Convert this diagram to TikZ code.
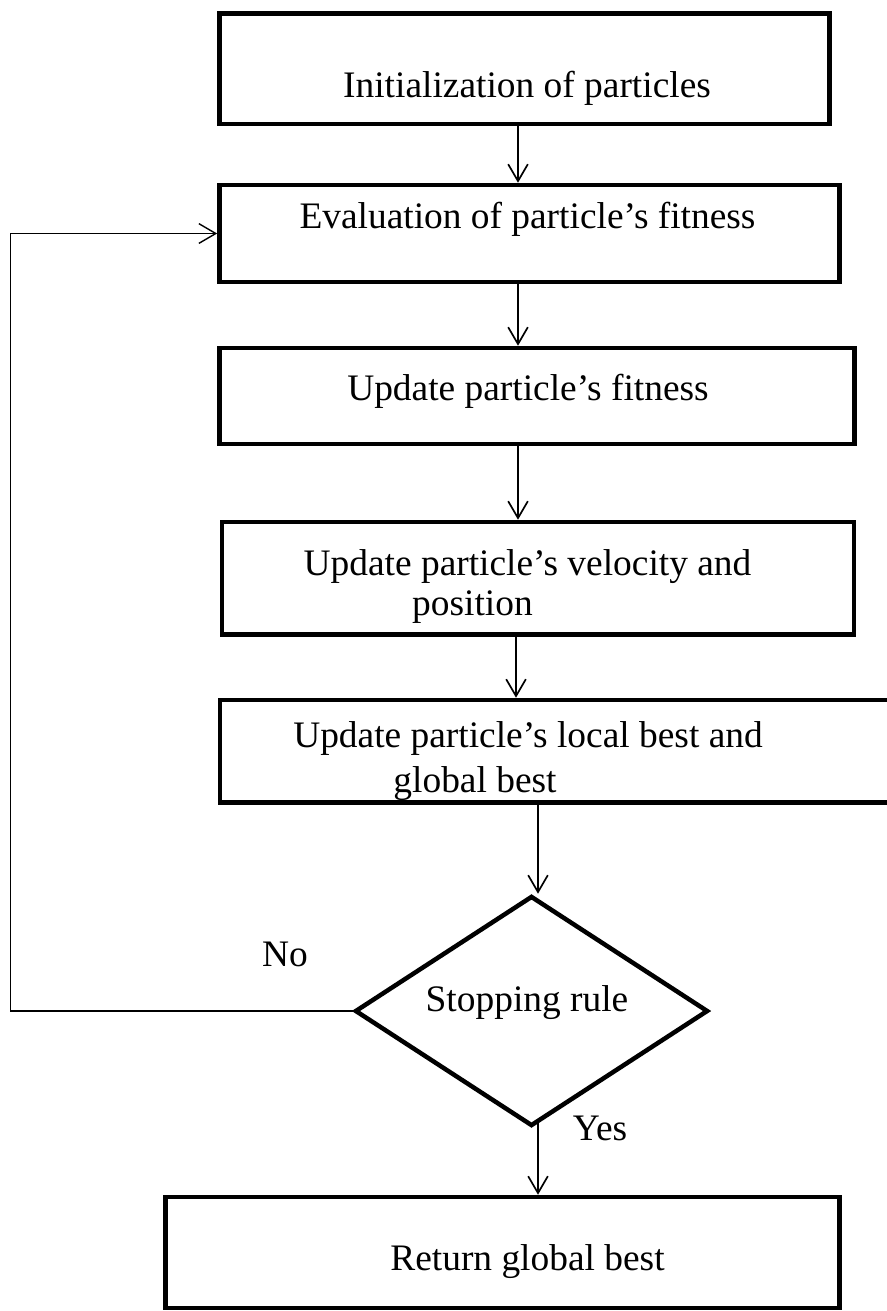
\documentclass[tikz,border=0pt]{standalone}
\usepackage{fontspec}
\setmainfont{Liberation Serif}
\usepackage{tikz}
\usetikzlibrary{calc,positioning,shapes.geometric,arrows.meta}
\tikzset{
  >={Straight Barb[length=12pt,width=14pt]},
  flow/.style={->,line width=1.2pt},
  backflow/.style={->,line width=1pt},
  txt/.style={inner sep=0pt,anchor=base,font=\fontsize{26.6}{30}\selectfont},
  procbox/.style args={#1,#2}{
  draw=black,
  line width=3.2pt,
  inner sep=0pt,
  minimum width=#1 cm,
  minimum height=#2 cm,
  },
  decision/.style args={#1,#2}{
  diamond,
  draw=black,
  line width=3.2pt,
  inner sep=0pt,
  minimum width=#1 cm,
  minimum height=#2 cm,
  }
}

\begin{document}
\begin{tikzpicture}[x=0.025cm,y=-0.025cm]
  \useasboundingbox (0,0) rectangle (887,1311);

  % boxes of the loop
  \node[procbox={15.25,2.7625}] (init) at (524.5,68.75) {};
  \node[procbox={15.5,2.425}] (eval) at (529.5,233.5) {};
  \node[procbox={15.8625,2.4}] (fit) at (537,396) {};
  \node[procbox={15.8,2.8125}] (vel) at (538,578.25) {};
  \node[procbox={17,2.5625}] (best) at (560,751.25) {};
  \node[decision={8.825,5.75}] (stop) at (531.5,1011) {};
  \node[procbox={16.85,2.775}] (ret) at (502.5,1252.5) {};

  % texts
  \node[txt] (tinit) at (527,97) {Initialization of particles};
  \node[txt] (teval) at (527.5,228) {Evaluation of particle's fitness};
  \node[txt] (tfit) at (528,400) {Update particle's fitness};
  \node[txt] (tvel1) at (527.5,575) {Update particle's velocity and};
  \node[txt] (tvel2) at (472.5,615) {position};
  \node[txt] (tbest1) at (528,747) {Update particle's local best and};
  \node[txt] (tbest2) at (475,792) {global best};
  \node[txt] (tstop) at (527,1011) {Stopping rule};
  \node[txt] (tret) at (527.5,1270) {Return global best};
  \node[txt] (no) at (285,966) {No};
  \node[txt] (yes) at (600,1140) {Yes};

  % connectors
  \coordinate (c1) at ($(init.south)+(-6.5,0)$);
  \coordinate (c2) at ($(eval.south)+(-11.5,0)$);
  \coordinate (c3) at ($(fit.south)+(-19,0)$);
  \coordinate (c4) at ($(vel.south)+(-22,0)$);
  \coordinate (c5) at ($(best.south)+(-22,0)$);
  \coordinate (c6) at ($(stop.south)+(6.5,-5)$);
  \draw[flow] (c1) -- (c1 |- eval.north);
  \draw[flow] (c2) -- (c2 |- fit.north);
  \draw[flow] (c3) -- (c3 |- vel.north);
  \draw[flow] (c4) -- (c4 |- best.north);
  \draw[flow] (c5) -- (c5 |- stop.north);
  \draw[flow] (c6) -- (c6 |- ret.north);
  \draw[backflow] (stop.west) -- ++(-342,0) |- (eval.west);
\end{tikzpicture}
\end{document}
